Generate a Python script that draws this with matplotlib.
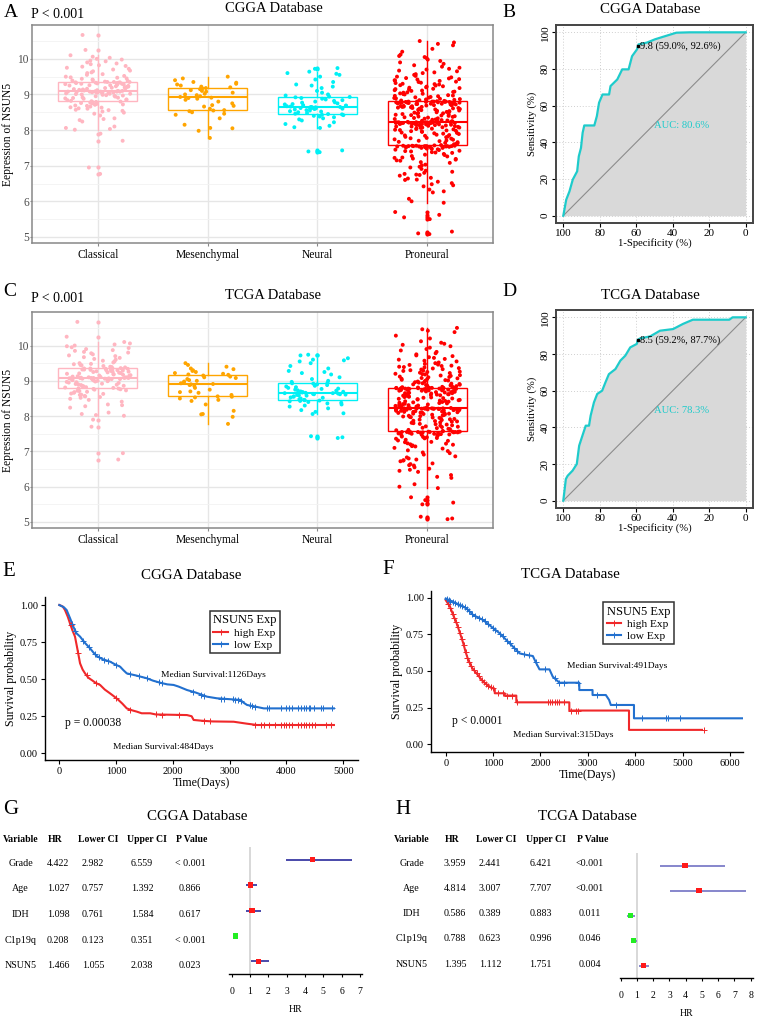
import numpy as np
import matplotlib
matplotlib.use("Agg")
import matplotlib.pyplot as plt
from matplotlib.lines import Line2D

plt.rcParams['font.family'] = ['Liberation Serif', 'DejaVu Serif']

# ---------------- data ----------------
subtypes = ["Classical", "Mesenchymal", "Neural", "Proneural"]
subtype_colors = ["#FFB6C1", "#FFA500", "#00F0F5", "#FF0000"]

classical_expr = [6.77, 6.95, 7.70, 7.90, 8.01, 8.03, 8.06, 8.10, 8.24, 8.28, 8.31, 8.33, 8.41, 8.46, 8.49,
                  8.52, 8.54, 8.56, 8.57, 8.60, 8.61, 8.63, 8.64, 8.66, 8.68, 8.69, 8.71, 8.72, 8.73, 8.75,
                  8.76, 8.77, 8.78, 8.79, 8.80,
                  8.81, 8.82, 8.84, 8.85, 8.86, 8.88, 8.89, 8.90, 8.91, 8.92, 8.94, 8.95, 8.96, 8.97, 8.98,
                  8.99, 9.00, 9.01, 9.02, 9.02, 9.03, 9.04, 9.04, 9.05, 9.05, 9.06, 9.06, 9.07, 9.07, 9.07,
                  9.08, 9.08, 9.08, 9.08, 9.08,
                  9.09, 9.10, 9.10, 9.11, 9.12, 9.13, 9.14, 9.15, 9.16, 9.17, 9.18, 9.19, 9.20, 9.21, 9.22,
                  9.23, 9.24, 9.25, 9.26, 9.26, 9.27, 9.28, 9.29, 9.30, 9.30, 9.31, 9.32, 9.32, 9.33, 9.33,
                  9.34, 9.34, 9.35, 9.35, 9.35,
                  9.36, 9.38, 9.39, 9.40, 9.42, 9.44, 9.45, 9.47, 9.48, 9.50, 9.52, 9.55, 9.57, 9.60, 9.62,
                  9.65, 9.67, 9.70, 9.72, 9.75, 9.78, 9.80, 9.82, 9.85, 9.87, 9.90, 9.93, 9.95, 9.98, 10.00,
                  10.03, 10.06, 10.10, 10.25, 10.67]

mesenchymal_expr = [7.78, 7.98, 8.05, 8.06, 8.15, 8.33, 8.43, 8.46, 8.50, 8.53, 8.55,
                    8.56, 8.60, 8.66, 8.68, 8.70, 8.75, 8.80, 8.85, 8.88, 8.90, 8.91,
                    8.93, 8.95, 8.98, 9.00, 9.02, 9.05, 9.08, 9.10, 9.12, 9.15, 9.17,
                    9.18, 9.20, 9.22, 9.25, 9.28, 9.30, 9.33, 9.35, 9.40, 9.45, 9.50]

neural_expr = [7.38, 7.40, 7.43, 8.06, 8.08, 8.12, 8.17, 8.22, 8.27, 8.30, 8.33, 8.36, 8.38, 8.40, 8.42, 8.43, 8.44, 8.45,
               8.46, 8.48, 8.50, 8.52, 8.53, 8.55, 8.56, 8.58, 8.59, 8.60, 8.61, 8.62, 8.62, 8.63, 8.64, 8.64, 8.65, 8.65,
               8.66, 8.67, 8.68, 8.69, 8.70, 8.72, 8.73, 8.75, 8.77, 8.78, 8.80, 8.82, 8.84, 8.86, 8.88, 8.90, 8.92, 8.93,
               8.94, 8.97, 9.00, 9.05, 9.10, 9.18, 9.22, 9.25, 9.28, 9.35, 9.42, 9.50, 9.55, 9.58, 9.60, 9.64, 9.72, 9.74]

proneural_expr = [5.08, 5.10, 5.15, 5.50, 5.55, 5.62, 5.70, 5.96, 6.00, 6.07,
                  6.25, 6.28, 6.33, 6.42, 6.45, 6.48, 6.51, 6.55, 6.60, 6.61,
                  6.64, 6.66, 6.72, 6.74, 6.75, 6.77, 6.80, 6.83, 6.86, 6.91,
                  6.95, 6.97, 7.01, 7.03, 7.08, 7.10, 7.14, 7.15, 7.17, 7.19,
                  7.20, 7.22, 7.23, 7.26, 7.27, 7.30, 7.31, 7.33, 7.36, 7.37,
                  7.38, 7.40, 7.41, 7.42, 7.44, 7.45, 7.46, 7.47, 7.48, 7.49,
                  7.50, 7.50, 7.51, 7.52, 7.52, 7.53, 7.53, 7.54, 7.54, 7.54,
                  7.55, 7.55, 7.55, 7.55, 7.55, 7.55, 7.56, 7.56, 7.56, 7.56,
                  7.57, 7.58, 7.60, 7.61, 7.63, 7.64, 7.66, 7.67, 7.69, 7.70,
                  7.71, 7.73, 7.74, 7.76, 7.77, 7.78, 7.80, 7.81, 7.82, 7.84,
                  7.85, 7.86, 7.87, 7.89, 7.90, 7.91, 7.92, 7.93, 7.95, 7.96,
                  7.97, 7.98, 7.99, 8.00, 8.01, 8.02, 8.03, 8.04, 8.05, 8.06,
                  8.07, 8.07, 8.08, 8.09, 8.10, 8.10, 8.11, 8.12, 8.12, 8.13,
                  8.14, 8.14, 8.15, 8.15, 8.16, 8.16, 8.17, 8.17, 8.18, 8.18,
                  8.19, 8.19, 8.19, 8.20, 8.20, 8.20, 8.20, 8.21, 8.21, 8.21,
                  8.21, 8.21, 8.22, 8.22, 8.22, 8.22, 8.22, 8.22, 8.22, 8.22,
                  8.23, 8.23, 8.24, 8.25, 8.26, 8.27, 8.28, 8.29, 8.30, 8.31,
                  8.32, 8.33, 8.34, 8.35, 8.36, 8.37, 8.38, 8.39, 8.40, 8.41,
                  8.42, 8.43, 8.44, 8.45, 8.46, 8.47, 8.48, 8.49, 8.50, 8.51,
                  8.52, 8.53, 8.54, 8.55, 8.56, 8.57, 8.58, 8.59, 8.60, 8.61,
                  8.62, 8.62, 8.63, 8.64, 8.65, 8.65, 8.66, 8.67, 8.68, 8.68,
                  8.69, 8.70, 8.70, 8.71, 8.72, 8.72, 8.73, 8.73, 8.74, 8.74,
                  8.75, 8.75, 8.76, 8.76, 8.77, 8.77, 8.77, 8.78, 8.78, 8.78,
                  8.78, 8.79, 8.79, 8.79, 8.79, 8.80, 8.80, 8.80, 8.80, 8.80,
                  8.81, 8.82, 8.83, 8.84, 8.85, 8.86, 8.87, 8.88, 8.89, 8.90,
                  8.91, 8.92, 8.93, 8.95, 8.96, 8.97, 8.98, 9.00, 9.01, 9.02,
                  9.03, 9.05, 9.06, 9.07, 9.08, 9.10, 9.11, 9.12, 9.14, 9.15,
                  9.16, 9.18, 9.19, 9.20, 9.22, 9.23, 9.25, 9.26, 9.28, 9.29,
                  9.30, 9.32, 9.33, 9.35, 9.36, 9.38, 9.39, 9.40, 9.42, 9.43,
                  9.45, 9.46, 9.48, 9.50, 9.52, 9.55, 9.57, 9.60, 9.62, 9.65,
                  9.67, 9.70, 9.72, 9.75, 9.78, 9.82, 9.86, 9.90, 9.94, 9.98,
                  10.02, 10.05, 10.08, 10.12, 10.20, 10.28, 10.38, 10.42, 10.46, 10.50]

expr_ticks = [5, 6, 7, 8, 9, 10]

# ROC curves (specificity %, sensitivity %)
cgga_spec = [100, 98.4, 96.6, 94.8, 92.4, 91.5, 90.3, 89.4, 88.5, 83.0, 81.6, 80.4, 78.5, 74.9, 74.1,
             70.4, 67.7, 64.2, 62.3, 59.6, 59.0, 58.8, 54.2, 49.7, 45.2, 38.0, 30.8, 0]
cgga_sens = [0, 8.7, 13.3, 19.7, 24.2, 32.4, 37.0, 45.2, 49.2, 49.2, 54.3, 61.6, 66.1, 66.1, 70.7,
             74.3, 79.8, 79.8, 87.0, 90.7, 92.6, 93.4, 94.4, 96.2, 97.6, 99.8, 100, 100]
tcga_spec = [100, 98.6, 97.6, 94.9, 92.6, 91.3, 89.5, 87.7, 85.9, 85.0, 83.2, 81.4, 78.7, 76.9, 75.0,
             71.4, 68.7, 66.0, 63.3, 59.7, 59.2, 57.9, 52.4, 47.0, 39.8, 34.4, 29.0, 9.0, 7.2, 0]
tcga_sens = [0, 11.8, 13.6, 16.4, 20.0, 30.0, 35.5, 40.9, 40.9, 46.4, 53.6, 58.2, 60.0, 64.5, 69.0,
             71.8, 76.4, 79.1, 83.6, 85.5, 87.7, 88.5, 89.6, 92.7, 93.6, 96.4, 98.7, 98.7, 100, 100]
roc_ticks = [0, 20, 40, 60, 80, 100]

# Kaplan-Meier curves
cgga_high_t = [0, 60, 100, 150, 188, 230, 276, 320, 365, 410, 453, 510, 571, 640, 718, 800, 894, 960, 1041,
               1110, 1188, 1280, 1365, 1450, 1600, 1700, 2247, 2330, 2365, 2500, 2700, 3070, 3300, 3482, 4835]
cgga_high_s = [1.0, 0.99, 0.966, 0.92, 0.876, 0.83, 0.787, 0.70, 0.607, 0.565, 0.539, 0.51, 0.494, 0.475,
               0.461, 0.43, 0.404, 0.385, 0.36, 0.335, 0.303, 0.29, 0.281, 0.27, 0.27, 0.262, 0.258, 0.25,
               0.225, 0.22, 0.215, 0.213, 0.20, 0.191, 0.191]
cgga_low_t = [0, 80, 129, 190, 247, 300, 365, 450, 541, 600, 659, 760, 894, 980, 1071, 1130, 1188, 1350,
              1541, 1650, 1776, 1900, 2012, 2100, 2247, 2400, 2600, 2776, 3188, 3250, 3306, 3450, 3600, 4835]
cgga_low_s = [1.0, 0.985, 0.966, 0.91, 0.854, 0.81, 0.787, 0.745, 0.708, 0.68, 0.656, 0.635, 0.618, 0.60,
              0.584, 0.56, 0.539, 0.525, 0.506, 0.49, 0.476, 0.465, 0.461, 0.45, 0.427, 0.41, 0.382, 0.371,
              0.36, 0.34, 0.326, 0.315, 0.303, 0.303]
cgga_high_cens = [200, 330, 480, 650, 1000, 1250, 1700, 1800, 2100, 2550, 2650, 3450, 3550, 3600, 3700, 3800,
                  3900, 3950, 4000, 4050, 4100, 4200, 4250, 4300, 4350, 4400, 4450, 4500, 4700, 4780]
cgga_low_cens = [230, 280, 420, 520, 620, 700, 780, 850, 1000, 1250, 1400, 1550, 1750, 1800, 2350, 2500, 2550,
                 2850, 2900, 3050, 3100, 3150, 3200, 3350, 3400, 3450, 3650, 3700, 3900, 4000, 4050, 4100, 4200,
                 4250, 4300, 4350, 4400, 4420, 4480, 4600, 4650, 4800]

tcga_high_t = [0, 91, 160, 231, 300, 371, 420, 476, 560, 650, 720, 790, 860, 930, 1035, 1035, 1245, 1245, 1490,
               1490, 2608, 2608, 3867, 3867, 5406]
tcga_high_s = [0.984, 0.939, 0.88, 0.825, 0.76, 0.689, 0.63, 0.575, 0.52, 0.484, 0.455, 0.427, 0.41, 0.393,
               0.375, 0.348, 0.348, 0.332, 0.332, 0.286, 0.286, 0.23, 0.23, 0.098, 0.098]
tcga_low_t = [0, 231, 441, 580, 790, 965, 1140, 1280, 1420, 1560, 1700, 1839, 1900, 1979, 2189, 2259, 2399,
              2818, 2818, 3098, 3098, 3378, 3448, 3483, 3972, 3972, 6280]
tcga_low_s = [0.995, 0.961, 0.927, 0.882, 0.848, 0.802, 0.757, 0.711, 0.666, 0.62, 0.61, 0.602, 0.56, 0.511,
              0.511, 0.461, 0.42, 0.42, 0.37, 0.37, 0.336, 0.336, 0.302, 0.268, 0.268, 0.177, 0.177]
tcga_high_cens = [50, 100, 150, 180, 220, 260, 300, 340, 380, 420, 460, 500, 540, 600, 650, 700, 760, 800, 850,
                  900, 950, 1000, 1100, 1200, 1300, 1400, 1500, 2150, 2200, 2250, 2300, 2350, 2400, 2500, 2650,
                  2750, 2800, 5450]
tcga_low_cens = [20, 60, 100, 150, 200, 250, 300, 350, 400, 450, 500, 550, 620, 700, 760, 820, 900, 1000, 1050,
                 1150, 1200, 1300, 1350, 1450, 1500, 1650, 1750, 1900, 2100, 2300, 2400, 2500, 2800, 3200, 3600,
                 4150, 4650, 4700, 4950]

# Cox regression tables
cox_vars = ["Grade", "Age", "IDH", "C1p19q", "NSUN5"]
cgga_hr = [4.422, 1.027, 1.098, 0.208, 1.466]
cgga_lo = [2.982, 0.757, 0.761, 0.123, 1.055]
cgga_hi = [6.559, 1.392, 1.584, 0.351, 2.038]
cgga_p = ["< 0.001", "0.866", "0.617", "< 0.001", "0.023"]
tcga_hr = [3.959, 4.814, 0.586, 0.788, 1.395]
tcga_lo = [2.441, 3.007, 0.389, 0.623, 1.112]
tcga_hi = [6.421, 7.707, 0.883, 0.996, 1.751]
tcga_p = ["<0.001", "<0.001", "0.011", "0.046", "0.004"]

# ---------------- figure ----------------
W, H = 757, 1021
fig = plt.figure(figsize=(W / 100, H / 100), dpi=100)


def ax_px(l, t, r, b):
    return fig.add_axes([l / W, 1 - b / H, (r - l) / W, (b - t) / H])


def txt(x, y, s, **kw):
    kw.setdefault('va', 'center')
    fig.text(x / W, 1 - y / H, s, **kw)


def draw_box(ax, seed):
    groups = [classical_expr, mesenchymal_expr, neural_expr, proneural_expr]
    ax.set_xlim(0.4, 4.6)
    ax.set_ylim(4.83, 10.95)
    ax.set_yticks(expr_ticks)
    ax.set_yticks([5.5, 6.5, 7.5, 8.5, 9.5, 10.5], minor=True)
    ax.grid(True, which='major', color='#E6E6E6', lw=1.0)
    ax.grid(True, which='minor', axis='y', color='#F2F2F2', lw=0.6)
    ax.set_axisbelow(True)
    for i, (vals, col) in enumerate(zip(groups, subtype_colors)):
        pos = i + 1
        vals = np.asarray(vals)
        n = len(vals)
        k = np.arange(n)
        jit = (np.sin(k * 12.9898 + seed) * 43758.5453) % 1.0
        jit = (jit - 0.5) * 0.60
        ax.boxplot([vals], positions=[pos], widths=0.72, patch_artist=True, showcaps=False,
                   boxprops=dict(facecolor='none', edgecolor=col, linewidth=1.0),
                   medianprops=dict(color=col, linewidth=1.5),
                   whiskerprops=dict(color=col, linewidth=1.0),
                   flierprops=dict(marker='o', markerfacecolor=col, markeredgecolor='none', markersize=3.0),
                   zorder=3)
        ax.scatter(pos + jit, vals, s=8, color=col, edgecolors='none', zorder=4)
    ax.set_xticks([1, 2, 3, 4])
    ax.set_xticklabels(subtypes, fontsize=8.3)
    ax.set_yticklabels([str(v) for v in expr_ticks], fontsize=8.3, color='#4D4D4D')
    ax.tick_params(axis='x', length=2.5, color='#888888', pad=2)
    ax.tick_params(axis='y', length=1.2, color='#888888', pad=1)
    ax.tick_params(axis='y', which='minor', length=0)
    for sp in ax.spines.values():
        sp.set_color('#888888')
        sp.set_linewidth(1.1)
    ax.set_ylabel("Eepression of NSUN5", fontsize=8.3)
    ax.yaxis.set_label_coords(-0.038, 0.5)


def draw_roc(ax, spec, sens, best_spec, best_sens, best_label, auc_label):
    ax.set_xlim(104, -4)
    ax.set_ylim(-4, 104)
    ax.set_xticks(roc_ticks)
    ax.set_yticks(roc_ticks)
    ax.grid(True, linestyle=(0, (1, 2)), color='#CFCFCF', lw=0.7)
    ax.set_axisbelow(True)
    ax.fill_between(spec, sens, 0, color='#D9D9D9', lw=0, zorder=1)
    ax.plot([100, 0], [0, 100], color='#8C8C8C', lw=0.8, zorder=2)
    ax.plot(spec, sens, color='#1ECBCB', lw=1.6, zorder=3)
    ax.plot([best_spec], [best_sens], 's', color='black', ms=2.0, zorder=4)
    ax.text(best_spec - 1.2, best_sens, best_label, fontsize=7.4, va='center', ha='left', zorder=5)
    ax.text(35, 49, auc_label, color='#1ECBCB', fontsize=7.7, ha='center', va='center', zorder=5)
    ax.tick_params(labelsize=8, length=3, pad=1.5)
    for lab in ax.get_yticklabels():
        lab.set_rotation(90)
        lab.set_va('center')
    for sp in ax.spines.values():
        sp.set_color('#444444')
        sp.set_linewidth(1.4)
    ax.set_xlabel('1-Specificity (%)', fontsize=7.7, labelpad=0)
    ax.set_ylabel('Sensitivity (%)', fontsize=7.7, labelpad=3)


RED = '#F0282A'
BLUE = '#2270CF'


def draw_km(ax, hi_t, hi_s, hi_c, lo_t, lo_s, lo_c, xlim, xticks, leg_anchor):
    ax.plot(hi_t, hi_s, color=RED, lw=1.5, zorder=3)
    ax.plot(lo_t, lo_s, color=BLUE, lw=1.5, zorder=3)
    ax.plot(hi_c, np.interp(hi_c, hi_t, hi_s), '+', color=RED, ms=4.5, mew=0.7, zorder=4)
    ax.plot(lo_c, np.interp(lo_c, lo_t, lo_s), '+', color=BLUE, ms=4.5, mew=0.7, zorder=4)
    ax.set_xlim(*xlim)
    ax.set_xticks(xticks)
    ax.set_yticks([0, 0.25, 0.5, 0.75, 1.0])
    ax.set_yticklabels(['0.00', '0.25', '0.50', '0.75', '1.00'])
    ax.spines['top'].set_visible(False)
    ax.spines['right'].set_visible(False)
    for sp in ('left', 'bottom'):
        ax.spines[sp].set_linewidth(1.0)
    ax.tick_params(labelsize=7.5, length=3, width=0.8, pad=2)
    ax.set_xlabel('Time(Days)', fontsize=8.6, labelpad=1)
    ax.set_ylabel('Survival probability', fontsize=8.6, labelpad=2)
    handles = [Line2D([], [], color=RED, lw=1.5, marker='+', ms=4.5, mew=0.7),
               Line2D([], [], color=BLUE, lw=1.5, marker='+', ms=4.5, mew=0.7)]
    leg = ax.legend(handles, ['high Exp', 'low Exp'], title='NSUN5 Exp', loc='upper left',
                    bbox_to_anchor=leg_anchor, fontsize=8.2, title_fontsize=9, frameon=True,
                    fancybox=False, edgecolor='black', handlelength=1.3, handletextpad=0.5,
                    borderpad=0.3, labelspacing=0.15, borderaxespad=0)
    leg.get_frame().set_linewidth(1.1)
    leg._legend_box.align = 'left'


def draw_forest(ax, hr, lo, hi, line_col, xlim, xticks):
    y = np.arange(len(hr))
    ax.axvline(1, color='#D6D6D6', lw=1.3, zorder=0)
    ax.hlines(y, lo, hi, color=line_col, lw=1.2, zorder=2)
    cols = ['#FF1A1A' if h > 1 else '#22EE22' for h in hr]
    ax.scatter(hr, y, marker='s', c=cols, s=16, zorder=3, edgecolors='none')
    ax.set_ylim(len(hr) - 0.5, -0.5)
    ax.set_xlim(*xlim)
    ax.set_xticks(xticks)
    ax.set_yticks([])
    for sp in ('top', 'right', 'left'):
        ax.spines[sp].set_visible(False)
    ax.spines['bottom'].set_linewidth(1.0)
    ax.tick_params(axis='x', labelsize=7, length=2, pad=7)
    ax.set_xlabel('HR', fontsize=7, labelpad=7)


# ---- Panel A & C ----
axA = ax_px(32, 25, 493, 243)
draw_box(axA, 0.3)
axC = ax_px(32, 312, 493, 528)
draw_box(axC, 1.7)

# ---- Panel B & D ----
axB = ax_px(556, 25, 753, 223)
draw_roc(axB, cgga_spec, cgga_sens, 59.0, 92.6, "9.8 (59.0%, 92.6%)", "AUC: 80.6%")
axD = ax_px(556, 310, 753, 508)
draw_roc(axD, tcga_spec, tcga_sens, 59.2, 87.7, "8.5 (59.2%, 87.7%)", "AUC: 78.3%")

# ---- Panel E & F ----
axE = ax_px(45, 597, 358, 760)
draw_km(axE, cgga_high_t, cgga_high_s, cgga_high_cens, cgga_low_t, cgga_low_s, cgga_low_cens,
        (-252, 5259), [0, 1000, 2000, 3000, 4000, 5000], (0.527, 0.914))
axE.set_ylim(-0.045, 1.054)
axE.text(2706, 0.528, "Median Survival:1126Days", fontsize=6.8, ha='center', va='center')
axE.text(1827, 0.042, "Median Survival:484Days", fontsize=6.8, ha='center', va='center')
axE.text(100, 0.204, "p = 0.00038", fontsize=8.4, ha='left', va='center')

axF = ax_px(431, 591, 743, 752)
draw_km(axF, tcga_high_t, tcga_high_s, tcga_high_cens, tcga_low_t, tcga_low_s, tcga_low_cens,
        (-310, 6272), [0, 1000, 2000, 3000, 4000, 5000, 6000], (0.552, 0.931))
axF.set_ylim(-0.053, 1.046)
axF.text(3614, 0.534, "Median Survival:491Days", fontsize=6.8, ha='center', va='center')
axF.text(2475, 0.063, "Median Survival:315Days", fontsize=6.8, ha='center', va='center')
axF.text(133, 0.159, "p < 0.0001", fontsize=8.4, ha='left', va='center')

# ---- Panel G & H ----
axG = ax_px(229, 847, 362, 974)
draw_forest(axG, cgga_hr, cgga_lo, cgga_hi, '#2A2A9C', (-0.15, 7.12), list(range(0, 8)))
axH = ax_px(620, 853, 753, 978)
draw_forest(axH, tcga_hr, tcga_lo, tcga_hi, '#7272C4', (-0.05, 8.15), list(range(0, 9)))

headers = ["Variable", "HR", "Lower CI", "Upper CI", "P Value"]


def draw_table(hx, cx, y0, dy, hr, lo, hi, pv):
    for x, h in zip(hx, headers):
        txt(x, 839, h, fontsize=7, fontweight='bold', ha='center')
    for i in range(len(cox_vars)):
        yy = y0 + i * dy
        row = [cox_vars[i], f"{hr[i]:.3f}", f"{lo[i]:.3f}", f"{hi[i]:.3f}", pv[i]]
        for x, s in zip(cx, row):
            txt(x, yy, s, fontsize=7.2, ha='center')


draw_table([20.5, 55, 98, 147, 192], [20.7, 58, 93, 142, 190], 863.3, 25.6,
           cgga_hr, cgga_lo, cgga_hi, cgga_p)
draw_table([411.7, 452, 496, 545.7, 592.3], [411.7, 455, 490, 540.7, 590], 863.3, 25.2,
           tcga_hr, tcga_lo, tcga_hi, tcga_p)

# ---- titles, panel letters ----
txt(10.5, 12.5, "A", fontsize=14, ha='center')
txt(31, 14, "P < 0.001", fontsize=10, ha='left')
txt(274, 9, "CGGA Database", fontsize=10.5, ha='center')
txt(509, 12.5, "B", fontsize=14, ha='center')
txt(650, 9.5, "CGGA Database", fontsize=10.8, ha='center')

txt(10, 291, "C", fontsize=14, ha='center')
txt(31, 298.5, "P < 0.001", fontsize=10, ha='left')
txt(273, 295, "TCGA Database", fontsize=10.5, ha='center')
txt(509, 292, "D", fontsize=14, ha='center')
txt(650, 295, "TCGA Database", fontsize=10.8, ha='center')

txt(9, 571, "E", fontsize=15, ha='center')
txt(191.7, 575, "CGGA Database", fontsize=10.8, ha='center')
txt(388.5, 570, "F", fontsize=15, ha='center')
txt(570, 574, "TCGA Database", fontsize=10.8, ha='center')

txt(10.5, 810, "G", fontsize=15, ha='center')
txt(197, 816, "CGGA Database", fontsize=10.8, ha='center')
txt(402.5, 810, "H", fontsize=15, ha='center')
txt(587, 816, "TCGA Database", fontsize=10.8, ha='center')

fig.savefig("out.png", dpi=100)
